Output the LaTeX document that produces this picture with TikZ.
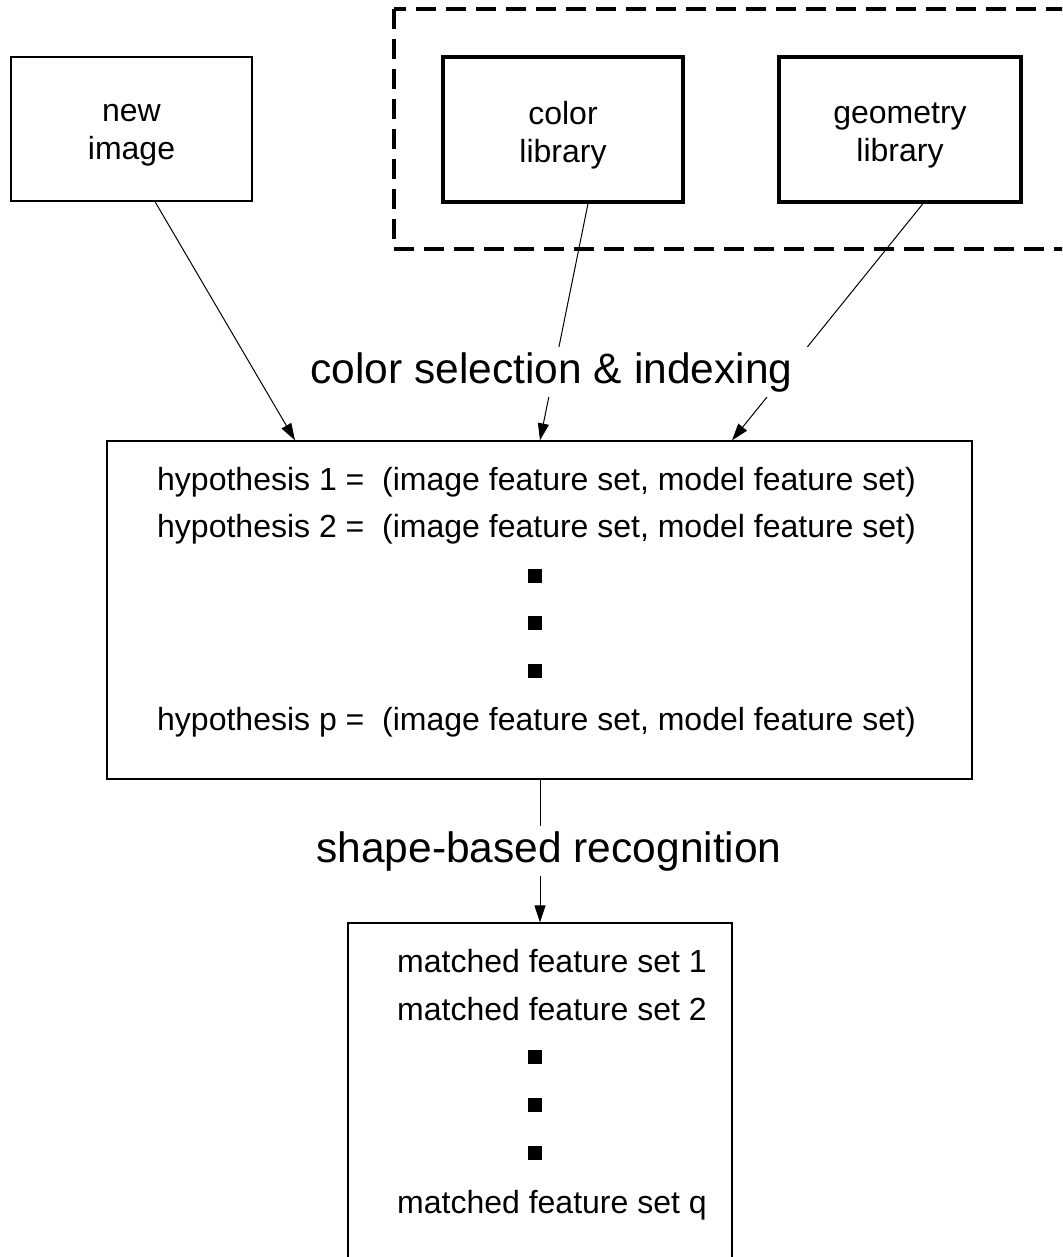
\documentclass[tikz,border=0pt]{standalone}
\usepackage{fontspec}
\setmainfont{Liberation Sans}
\usetikzlibrary{arrows.meta,calc}

\newcommand\diagboxfont{\fontsize{32}{38}\selectfont}
\newcommand\diaglabelfont{\fontsize{42.5}{50}\selectfont}

\begin{document}
\begin{tikzpicture}[x=1pt,y=-1pt,
  thinbox/.style={draw, line width=1.3pt, inner sep=0pt},
  libbox/.style={draw, line width=3.2pt, minimum width=240pt, minimum height=145pt, inner sep=0pt},
  boxtext/.style={inner sep=0pt, align=center, font=\diagboxfont},
  groupframe/.style={draw, line width=3.2pt, dash pattern=on 20pt off 10pt},
  rowtext/.style={anchor=base west, inner sep=0pt, font=\diagboxfont},
  dotsq/.style={fill=black, minimum size=13.5pt, inner sep=0pt},
  arrowline/.style={draw, line width=1pt, -{Triangle[length=17pt,width=11pt]}},
  stagelabel/.style={anchor=base, fill=white, inner xsep=16pt, inner ysep=5pt, font=\diaglabelfont}
]
\useasboundingbox (0,0) rectangle (1062,1257);
\begin{scope}
\clip (0,0) rectangle (1062,1257);

% libraries grouped in a dashed frame
\draw[groupframe] (394,9) rectangle (1090,249);

% input boxes
\node[thinbox, minimum width=241pt, minimum height=144pt] (newimg) at (131.5,129) {};
\node[boxtext] (newimgtxt) at ([yshift=-6.5pt]newimg.center) {new\\image};
\node[libbox] (colorlib) at (563,129.5) {};
\node[boxtext] (colorlibtxt) at ([yshift=-5.5pt]colorlib.center) {color\\library};
\node[libbox, minimum width=242pt] (geomlib) at (900,129.5) {};
\node[boxtext] (geomlibtxt) at ([yshift=-5.5pt]geomlib.center) {geometry\\library};

% hypotheses
\node[thinbox, minimum width=865pt, minimum height=338pt] (hyp) at (539.5,610) {};
\node[rowtext] (hyp1) at (157,490) {hypothesis 1 = ~(image feature set, model feature set)};
\node[rowtext] (hyp2) at (157,537) {hypothesis 2 = ~(image feature set, model feature set)};
\node[dotsq] (hd1) at (535,576) {};
\node[dotsq] (hd2) at (535,623) {};
\node[dotsq] (hd3) at (535,671) {};
\node[rowtext] (hypp) at (157,730) {hypothesis p = ~(image feature set, model feature set)};

% matched feature sets
\node[thinbox, minimum width=384pt, minimum height=420pt] (match) at (540,1133) {};
\node[rowtext] (m1) at (397,972) {matched feature set 1};
\node[rowtext] (m2) at (397,1020) {matched feature set 2};
\node[dotsq] (md1) at (535,1057) {};
\node[dotsq] (md2) at (535,1105) {};
\node[dotsq] (md3) at (535,1153) {};
\node[rowtext] (mq) at (397,1213) {matched feature set q};

% connectors
\draw[arrowline] ([xshift=23.5pt]newimg.south) -- ([xshift=-244.5pt]hyp.north);
\draw[arrowline] ([xshift=25pt]colorlib.south) -- ([xshift=0.5pt]hyp.north);
\draw[arrowline] ([xshift=23pt]geomlib.south) -- ([xshift=192.5pt]hyp.north);
\draw[arrowline] ([xshift=0.5pt]hyp.south) -- (match.north);

% stage labels laid over the connectors
\node[stagelabel] (indexing) at (551.5,383) {color selection \& indexing};
\node[stagelabel] (recog) at (549,862) {shape-based recognition};
\end{scope}
\end{tikzpicture}
\end{document}
